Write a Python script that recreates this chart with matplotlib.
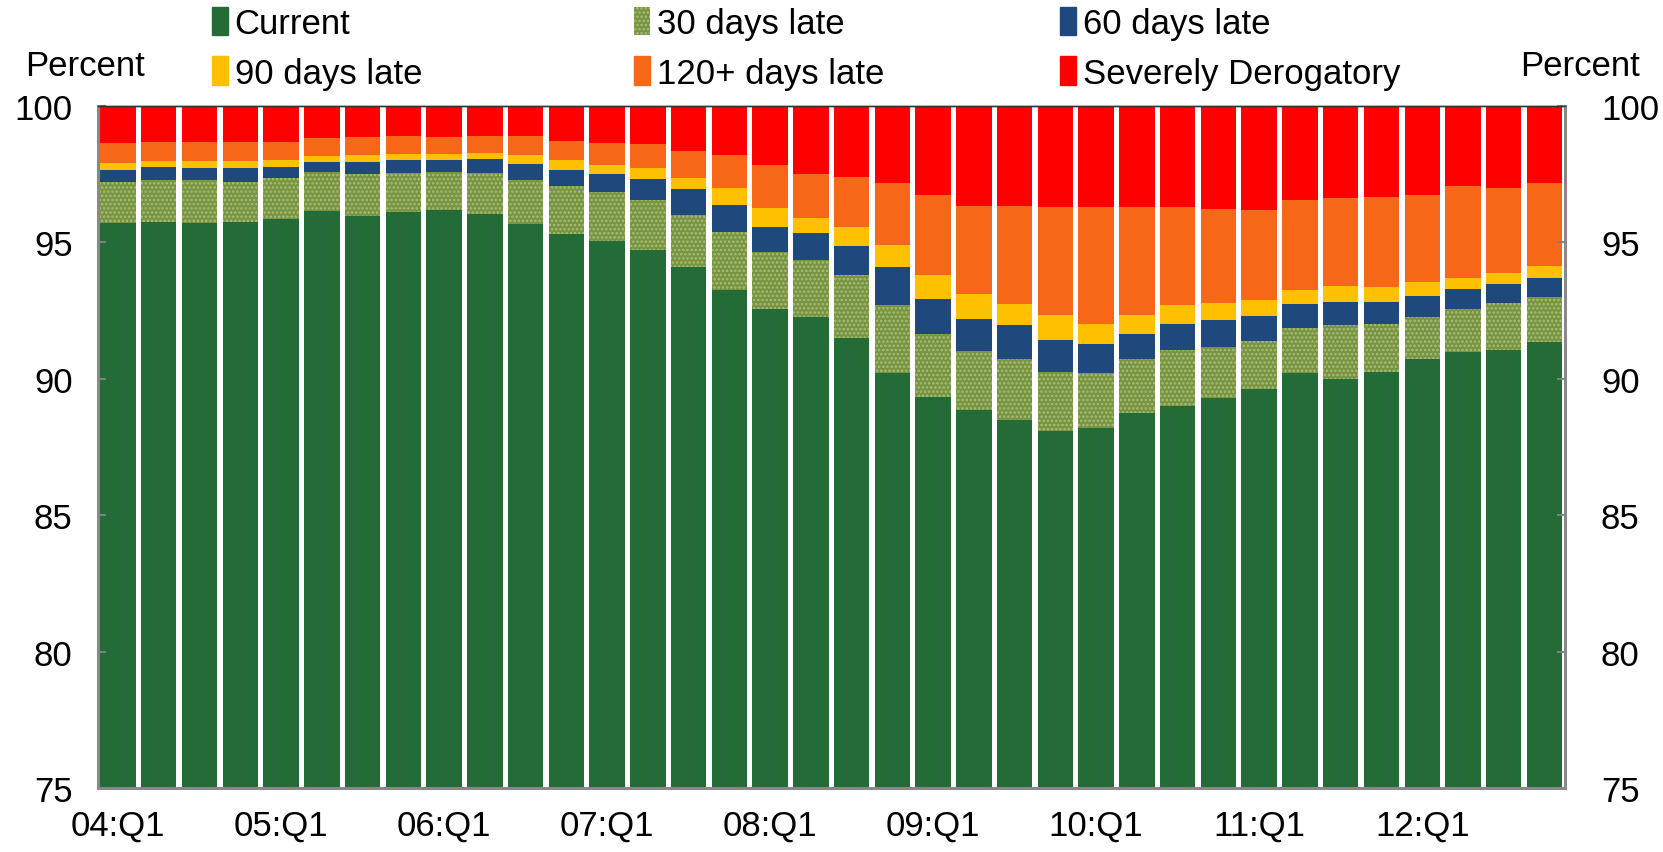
import numpy as np
import matplotlib
matplotlib.use("Agg")
import matplotlib.pyplot as plt
from matplotlib.patches import Patch

plt.rcParams['font.family'] = ['Liberation Sans', 'DejaVu Sans']
plt.rcParams['hatch.linewidth'] = 1.2

# quarters 04:Q1 .. 12:Q4
quarters = [f"{y:02d}:Q{q}" for y in range(4, 13) for q in range(1, 5)]

current = [95.70, 95.73, 95.70, 95.74, 95.87, 96.14, 95.98, 96.11, 96.18, 96.03, 95.67, 95.30,
           95.06, 94.72, 94.09, 93.25, 92.56, 92.26, 91.48, 90.23, 89.33, 88.85, 88.49, 88.09,
           88.20, 88.75, 89.01, 89.31, 89.62, 90.21, 89.99, 90.25, 90.73, 90.98, 91.04, 91.36]
late30 = [1.50, 1.54, 1.57, 1.48, 1.49, 1.43, 1.52, 1.44, 1.41, 1.52, 1.60, 1.76,
          1.79, 1.85, 1.92, 2.14, 2.07, 2.08, 2.31, 2.46, 2.31, 2.16, 2.22, 2.15,
          2.03, 1.96, 2.03, 1.86, 1.78, 1.66, 1.97, 1.74, 1.54, 1.59, 1.72, 1.63]
late60 = [0.47, 0.50, 0.47, 0.50, 0.42, 0.39, 0.46, 0.46, 0.44, 0.52, 0.61, 0.60,
          0.65, 0.76, 0.93, 0.97, 0.94, 1.01, 1.08, 1.40, 1.28, 1.17, 1.25, 1.19,
          1.04, 0.92, 0.98, 0.97, 0.89, 0.86, 0.86, 0.83, 0.75, 0.71, 0.70, 0.71]
late90 = [0.25, 0.23, 0.26, 0.25, 0.23, 0.22, 0.26, 0.24, 0.22, 0.22, 0.33, 0.35,
          0.35, 0.41, 0.43, 0.64, 0.68, 0.55, 0.68, 0.83, 0.90, 0.91, 0.79, 0.91,
          0.75, 0.69, 0.67, 0.62, 0.58, 0.51, 0.59, 0.54, 0.51, 0.40, 0.43, 0.44]
late120 = [0.74, 0.69, 0.69, 0.71, 0.67, 0.63, 0.66, 0.66, 0.63, 0.62, 0.70, 0.72,
           0.78, 0.88, 0.99, 1.22, 1.60, 1.61, 1.86, 2.27, 2.90, 3.26, 3.60, 3.94,
           4.29, 3.99, 3.59, 3.48, 3.33, 3.32, 3.20, 3.32, 3.19, 3.40, 3.10, 3.03]
severe = [1.34, 1.31, 1.31, 1.32, 1.32, 1.19, 1.12, 1.09, 1.12, 1.09, 1.09, 1.27,
          1.37, 1.38, 1.64, 1.78, 2.15, 2.49, 2.59, 2.81, 3.28, 3.65, 3.65, 3.72,
          3.69, 3.69, 3.72, 3.76, 3.80, 3.44, 3.39, 3.32, 3.28, 2.92, 3.01, 2.83]

series = [
    ("Current", current, dict(color='#236B37')),
    ("30 days late", late30, dict(facecolor='#789440', edgecolor='#A8BE7C', hatch='....', linewidth=0)),
    ("60 days late", late60, dict(color='#1F497D')),
    ("90 days late", late90, dict(color='#FFC000')),
    ("120+ days late", late120, dict(color='#F66818')),
    ("Severely Derogatory", severe, dict(color='#FF0000')),
]

FS = 25

fig = plt.figure(figsize=(16.63, 8.53), dpi=100)
ax = fig.add_axes([0.0587, 0.075, 0.8823, 0.7996])

x = np.arange(len(quarters))
bottom = np.zeros(len(quarters))
handles = []
for name, vals, style in series:
    vals = np.array(vals)
    ax.bar(x, vals, width=0.87, bottom=bottom, label=name, **style)
    handles.append(Patch(label=name, **style))
    bottom += vals

ax.set_xlim(-0.5, len(quarters) - 0.5)
ax.set_ylim(75, 100)
ax.set_yticks([75, 80, 85, 90, 95, 100])
ax.set_xticks(x[::4])
ax.set_xticklabels(quarters[::4])
ax.tick_params(axis='x', length=0, pad=15, labelsize=FS)
ax.tick_params(axis='y', direction='in', length=6, width=1.5, color='#808080', pad=18, labelsize=FS)

# right-hand axis repeats the scale
ax2 = ax.twinx()
ax2.set_ylim(75, 100)
ax2.set_yticks([75, 80, 85, 90, 95, 100])
ax2.tick_params(axis='y', direction='in', length=6, width=1.5, color='#808080', pad=26, labelsize=FS)

for a in (ax, ax2):
    for side in ('left', 'right', 'bottom'):
        a.spines[side].set_color('#888888')
        a.spines[side].set_linewidth(2)
    a.spines['top'].set_color('#333333')
    a.spines['top'].set_linewidth(1)

fig.text(0.051, 0.922, "Percent", fontsize=FS, ha='center', va='center')
fig.text(0.950, 0.922, "Percent", fontsize=FS, ha='center', va='center')

# legend: three columns placed separately
col_x = [0.1275, 0.3812, 0.6374]
for c in range(3):
    hs = [handles[c], handles[c + 3]]
    fig.legend(handles=hs, loc='upper left', bbox_to_anchor=(col_x[c], 0.991),
               frameon=False, fontsize=FS, handlelength=0.45, handleheight=0.9,
               handletextpad=0.2, labelspacing=0.47, borderpad=0.0, borderaxespad=0.0)

fig.savefig("out.png", dpi=100)
